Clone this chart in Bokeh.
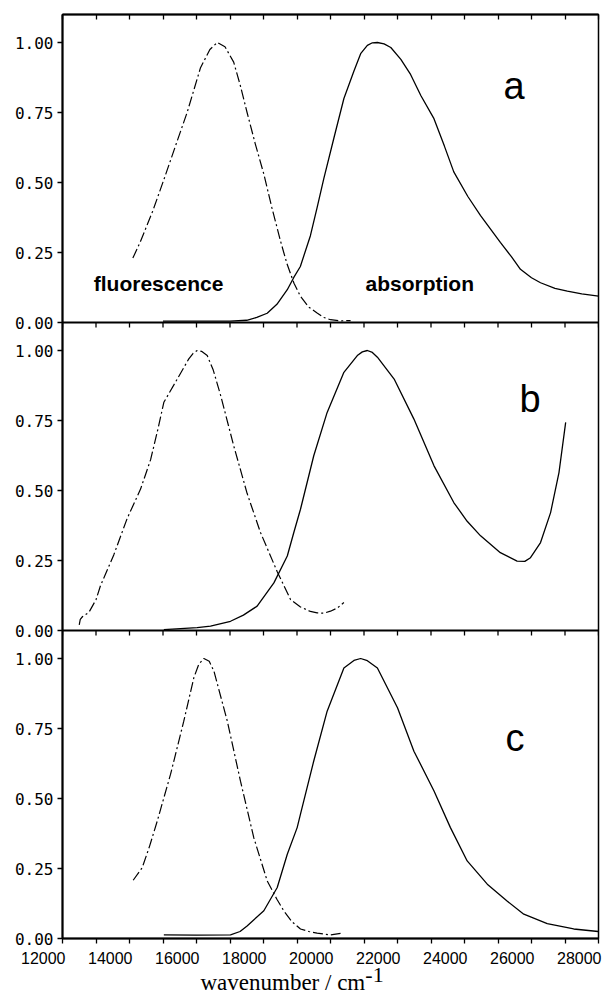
import numpy as np
from bokeh.plotting import figure
from bokeh.models import (Range1d, FixedTicker, LinearAxis, Label, Span,
                          CustomJSTickFormatter)
from bokeh.core.properties import value
from bokeh.embed import file_html
from bokeh.resources import INLINE

# ---------------- data ----------------
a_fl_x = [14100, 14330, 14700, 15025, 15400, 15720, 16120, 16400, 16620, 16850, 17110, 17300,
          17510, 17750, 18010, 18250, 18510, 18700, 18910, 19100, 19350, 19600, 19800, 20000,
          20300, 20600]
a_fl_y = [0.23, 0.29, 0.40, 0.51, 0.64, 0.75, 0.91, 0.975, 1.00, 0.985, 0.93, 0.85,
          0.75, 0.64, 0.53, 0.41, 0.29, 0.21, 0.14, 0.094, 0.055, 0.034, 0.018, 0.010,
          0.006, 0.007]
a_ab_x = [15000, 16000, 17000, 17500, 17800, 18110, 18400, 18710, 18900, 19100, 19400, 19600,
          19800, 20100, 20400, 20700, 20900, 21100, 21250, 21400, 21600, 21800, 22100, 22390,
          22700, 23080, 23400, 23680, 24100, 24480, 24800, 25070, 25400, 25670, 26000, 26270,
          26700, 27070, 27500, 28000]
a_ab_y = [0.005, 0.005, 0.005, 0.008, 0.018, 0.033, 0.065, 0.117, 0.16, 0.20, 0.31, 0.41,
          0.514, 0.658, 0.80, 0.898, 0.96, 0.99, 0.999, 1.0, 0.995, 0.982, 0.94, 0.886,
          0.81, 0.73, 0.63, 0.538, 0.45, 0.382, 0.33, 0.286, 0.235, 0.19, 0.16, 0.142,
          0.122, 0.112, 0.102, 0.094]

b_fl_x = [12500, 12530, 12600, 12790, 13000, 13134, 13530, 13930, 14330, 14630, 14850, 15025,
          15425, 15770, 15900, 16020, 16150, 16320, 16500, 16720, 17110, 17510, 17910, 18410,
          18810, 19104, 19400, 19600, 19800, 20000, 20200, 20400]
b_fl_y = [0.02, 0.04, 0.05, 0.065, 0.11, 0.16, 0.27, 0.40, 0.505, 0.61, 0.72, 0.815,
          0.898, 0.97, 0.99, 1.00, 0.997, 0.982, 0.93, 0.84, 0.66, 0.49, 0.35, 0.21,
          0.11, 0.084, 0.068, 0.063, 0.062, 0.069, 0.08, 0.10]
b_ab_x = [15025, 16020, 16418, 17015, 17400, 17810, 18310, 18710, 18905, 19104, 19500, 19900,
          20400, 20800, 20950, 21100, 21250, 21400, 21900, 22490, 23090, 23680, 24080, 24480,
          25070, 25570, 25800, 25970, 26270, 26570, 26820, 27020]
b_ab_y = [0.003, 0.01, 0.016, 0.033, 0.055, 0.087, 0.17, 0.266, 0.35, 0.433, 0.624, 0.779,
          0.922, 0.982, 0.995, 1.0, 0.993, 0.976, 0.898, 0.755, 0.588, 0.457, 0.39, 0.338,
          0.278, 0.248, 0.247, 0.26, 0.314, 0.421, 0.564, 0.743]

c_fl_x = [14110, 14380, 14600, 14830, 15224, 15620, 15920, 16070, 16220, 16380, 16520, 16920,
          17313, 17710, 18110, 18400, 18605, 18850, 19104, 19350, 19600, 20000, 20300]
c_fl_y = [0.208, 0.253, 0.33, 0.42, 0.586, 0.776, 0.931, 0.98, 1.0, 0.99, 0.955, 0.776,
          0.562, 0.36, 0.206, 0.14, 0.099, 0.06, 0.034, 0.025, 0.019, 0.013, 0.018]
c_ab_x = [15025, 16000, 17015, 17300, 17510, 18010, 18410, 18710, 19005, 19104, 19500, 19900,
          20400, 20700, 20900, 21100, 21400, 22000, 22490, 23090, 23580, 24080, 24680, 25270,
          25770, 26470, 27260, 27990]
c_ab_y = [0.013, 0.012, 0.013, 0.025, 0.045, 0.099, 0.182, 0.301, 0.396, 0.444, 0.634, 0.812,
          0.966, 0.993, 1.0, 0.992, 0.966, 0.824, 0.669, 0.527, 0.396, 0.277, 0.194, 0.134,
          0.087, 0.053, 0.034, 0.025]

x_major = [12000, 14000, 16000, 18000, 20000, 22000, 24000, 26000, 28000]
x_minor = [13000, 15000, 17000, 19000, 21000, 23000, 25000, 27000]
x_tick_labels = ["12000", "14000", "16000", "18000", "20000", "22000", "24000", "26000", "28000"]
y_ticks = [0.0, 0.25, 0.5, 0.75, 1.0]

panel_letters = ["a", "b", "c"]
x_title = "wavenumber / cm"
x_title_sup = "-1"

# ---------------- layout / styling constants ----------------
X0, X1 = 12000, 28000
LEFT, RIGHT, W = 62, 6, 604
PANEL_SPAN = 1.10                  # data height of one panel
offsets = [2 * PANEL_SPAN, PANEL_SPAN, 0.0]   # panels a, b, c stacked in one frame
FL_DASH = "10 3 2 3"
MONO = "DejaVu Sans Mono"
SANS = "Liberation Sans"
SERIF = "Liberation Serif"

p = figure(width=W, height=948, output_backend="svg", toolbar_location=None,
           x_range=Range1d(X0, X1), y_range=Range1d(0, 3 * PANEL_SPAN),
           x_axis_location=None, y_axis_location=None,
           min_border_left=LEFT, min_border_right=RIGHT, min_border_top=14, min_border_bottom=10)
p.grid.visible = False
p.outline_line_color = "black"
p.outline_line_width = 1.5
p.background_fill_color = "white"
p.border_fill_color = "white"


def tick_axis(ax, inward):
    ax.ticker = FixedTicker(ticks=x_major, minor_ticks=x_minor)
    ax.formatter = CustomJSTickFormatter(code='return ""')
    ax.major_label_text_font_size = "0px"
    ax.major_label_standoff = 0
    ax.axis_line_color = "black"
    ax.axis_line_width = 2
    ax.major_tick_line_color = "black"
    ax.minor_tick_line_color = "black"
    ax.major_tick_line_width = 1.3
    ax.minor_tick_line_width = 1.3
    if inward:
        ax.major_tick_in, ax.major_tick_out = 5, 0
        ax.minor_tick_in, ax.minor_tick_out = 5, 0
    else:
        ax.major_tick_in, ax.major_tick_out = 0, 5
        ax.minor_tick_in, ax.minor_tick_out = 0, 5


top_ax = LinearAxis()
tick_axis(top_ax, inward=True)
p.add_layout(top_ax, "above")

bot_ax = LinearAxis()
tick_axis(bot_ax, inward=False)
p.add_layout(bot_ax, "below")

yax = LinearAxis()
yax.ticker = FixedTicker(ticks=[o + t for o in offsets for t in y_ticks], minor_ticks=[])
yax.formatter = CustomJSTickFormatter(
    args=dict(span=PANEL_SPAN),
    code="""
        const k = Math.floor((tick + 1e-6) / span);
        const v = Math.abs(tick - k * span);
        return v.toFixed(2);
    """)
yax.major_tick_in, yax.major_tick_out = 0, 5
yax.major_tick_line_width = 1.3
yax.major_label_standoff = 4
yax.major_label_text_font = MONO
yax.major_label_text_font_size = "16px"
yax.major_label_text_color = "black"
yax.axis_line_width = 2
yax.axis_line_color = "black"
p.add_layout(yax, "left")

# panel separators (bottom line of panels a and b) with their inward tick marks
all_x_ticks = x_major + x_minor
for off in offsets[:2]:
    p.add_layout(Span(location=off, dimension="width", line_color="black", line_width=2))
for off in offsets[1:]:
    p.ray(x=all_x_ticks, y=[off + PANEL_SPAN] * len(all_x_ticks), length=5,
          length_units="screen", angle=-90, angle_units="deg",
          line_color="black", line_width=1.3)

curves = [(a_fl_x, a_fl_y, a_ab_x, a_ab_y),
          (b_fl_x, b_fl_y, b_ab_x, b_ab_y),
          (c_fl_x, c_fl_y, c_ab_x, c_ab_y)]
for off, (fx, fy, ax_, ay) in zip(offsets, curves):
    p.line(fx, list(np.asarray(fy) + off), line_color="black", line_width=1.2, line_dash=FL_DASH)
    p.line(ax_, list(np.asarray(ay) + off), line_color="black", line_width=1.3)

letter_pos = [(25164, 0.844), (25642, 0.827), (25224, 0.717)]
for off, t, (lx, ly) in zip(offsets, panel_letters, letter_pos):
    p.add_layout(Label(x=lx, y=ly + off, text=t, text_font=SANS, text_font_size="38px",
                       text_color="black", text_baseline="alphabetic"))

p.add_layout(Label(x=12934, y=0.098 + offsets[0], text="fluorescence", text_font=SANS,
                   text_font_size="21px", text_font_style="bold", text_color="black"))
p.add_layout(Label(x=21045, y=0.098 + offsets[0], text="absorption", text_font=SANS,
                   text_font_size="21px", text_font_style="bold", text_color="black"))

# ---------------- strip below: tick labels + axis title ----------------
# separate root (no frame alignment); its frame spans the full width and its x range
# is extended so that the scale matches the plot above
px_per_unit = (W - LEFT - RIGHT) / (X1 - X0)
s_x_range = Range1d(X0 - LEFT / px_per_unit, X1 + RIGHT / px_per_unit)
S_H = 46
s = figure(width=W, height=S_H, output_backend="svg", toolbar_location=None,
           x_range=s_x_range, y_range=Range1d(0, S_H),
           x_axis_location=None, y_axis_location=None,
           min_border_left=0, min_border_right=0, min_border_top=0, min_border_bottom=0)
s.grid.visible = False
s.outline_line_color = None
s.background_fill_color = "white"
s.border_fill_color = "white"
s.text(x=x_major, y=[S_H - 9] * len(x_major), text=x_tick_labels, x_offset=3,
       text_align="right", text_baseline="middle", text_font=value(SANS),
       text_font_size="16px", text_color="black")
s.text(x=[16119], y=[12], text=[x_title], text_font=value(SERIF), text_font_size="23px",
       text_align="left", text_baseline="middle", text_color="black")
s.text(x=[21040], y=[20], text=[x_title_sup], text_font=value(SERIF), text_font_size="22px",
       text_align="left", text_baseline="middle", text_color="black")

open("out.html", "w").write(file_html([p, s], INLINE))
